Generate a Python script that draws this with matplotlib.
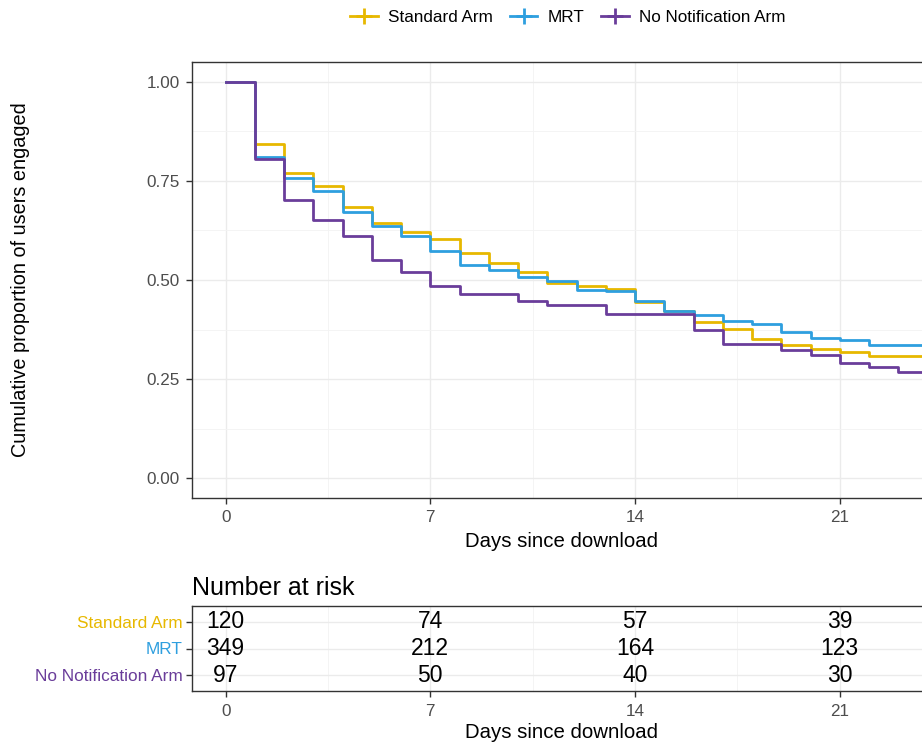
import numpy as np
import matplotlib
matplotlib.use('Agg')
import matplotlib.pyplot as plt
from matplotlib.lines import Line2D
from matplotlib.ticker import MultipleLocator

plt.rcParams['font.family'] = ['Liberation Sans', 'DejaVu Sans']

# step values, one per day starting at day 0
days = list(range(24))
standard = [1.0, 0.844, 0.769, 0.736, 0.684, 0.645, 0.620, 0.603, 0.568, 0.544,
            0.519, 0.493, 0.486, 0.478, 0.444, 0.423, 0.394, 0.376, 0.352, 0.337,
            0.327, 0.319, 0.308, 0.308]
mrt = [1.0, 0.810, 0.757, 0.724, 0.671, 0.636, 0.610, 0.572, 0.537, 0.526,
       0.508, 0.497, 0.474, 0.471, 0.446, 0.422, 0.411, 0.397, 0.389, 0.369,
       0.354, 0.348, 0.337, 0.337]
no_notif = [1.0, 0.805, 0.702, 0.652, 0.610, 0.550, 0.520, 0.486, 0.465, 0.465,
            0.448, 0.436, 0.436, 0.415, 0.415, 0.415, 0.373, 0.339, 0.339, 0.323,
            0.311, 0.290, 0.280, 0.269]
t_end = 25

groups = ['Standard Arm', 'MRT', 'No Notification Arm']
colors = ['#E7B800', '#2E9FDF', '#6A3D9A']

risk_days = [0, 7, 14, 21]
risk_standard = [120, 74, 57, 39]
risk_mrt = [349, 212, 164, 123]
risk_no_notif = [97, 50, 40, 30]

W, H = 922, 745
fig = plt.figure(figsize=(W / 100, H / 100), dpi=100)

def px_axes(l, t, r, b):
    return fig.add_axes([l / W, 1 - b / H, (r - l) / W, (b - t) / H])

def style(ax):
    ax.set_facecolor('white')
    for s in ax.spines.values():
        s.set_color('#333333')
        s.set_linewidth(1.0)
    ax.tick_params(which='major', length=4, color='#333333', width=1,
                   labelcolor='#4D4D4D', labelsize=12.3, pad=5)
    ax.tick_params(which='minor', length=0)
    ax.grid(which='major', color='#EBEBEB', linewidth=1.0)
    ax.grid(which='minor', color='#F3F3F3', linewidth=0.6)
    ax.set_axisbelow(True)

xlim = (-1.15, 24.12)

# survival curves
ax = px_axes(192, 62, 931, 498)
style(ax)
for vals, c in zip([standard, mrt, no_notif], colors):
    ax.step(days + [t_end], vals + [vals[-1]], where='post', color=c, lw=2)
ax.set_xlim(*xlim)
ax.set_ylim(-0.05, 1.05)
ax.xaxis.set_major_locator(MultipleLocator(7))
ax.xaxis.set_minor_locator(MultipleLocator(3.5))
ax.yaxis.set_major_locator(MultipleLocator(0.25))
ax.yaxis.set_minor_locator(MultipleLocator(0.125))
ax.yaxis.set_major_formatter(plt.FuncFormatter(lambda v, p: f'{v:.2f}'))
ax.set_xlabel('Days since download', fontsize=14.7, color='black', labelpad=5)
ax.set_ylabel('Cumulative proportion of users engaged', fontsize=14.3,
              color='black')
ax.yaxis.set_label_coords((30 - 192) / 739, 0.5)

handles = [Line2D([], [], color=c, lw=2, marker='+', markersize=11, mew=2)
           for c in colors]
fig.legend(handles, groups, loc='center', bbox_to_anchor=(568 / W, 1 - 17 / H),
           ncol=3, frameon=False, fontsize=12.3, handlelength=1.6,
           handletextpad=0.6, columnspacing=1.0)

# number at risk table
rx = px_axes(192, 606, 931, 691)
style(rx)
rx.set_xlim(*xlim)
rx.set_ylim(3.6, 0.4)
rx.xaxis.set_major_locator(MultipleLocator(7))
rx.xaxis.set_minor_locator(MultipleLocator(3.5))
rx.set_yticks([1, 2, 3])
rx.set_yticklabels(groups)
for lab, c in zip(rx.get_yticklabels(), colors):
    lab.set_color(c)
    lab.set_fontsize(12.4)
rx.tick_params(axis='y', pad=3)
for row, counts in enumerate([risk_standard, risk_mrt, risk_no_notif], start=1):
    for d, n in zip(risk_days, counts):
        rx.text(d, row, str(n), ha='center', va='center', fontsize=16.5,
                color='black')
rx.set_xlabel('Days since download', fontsize=14.7, color='black', labelpad=3)
rx.set_title('Number at risk', loc='left', fontsize=18, pad=8)

fig.savefig('out.png', dpi=100)
